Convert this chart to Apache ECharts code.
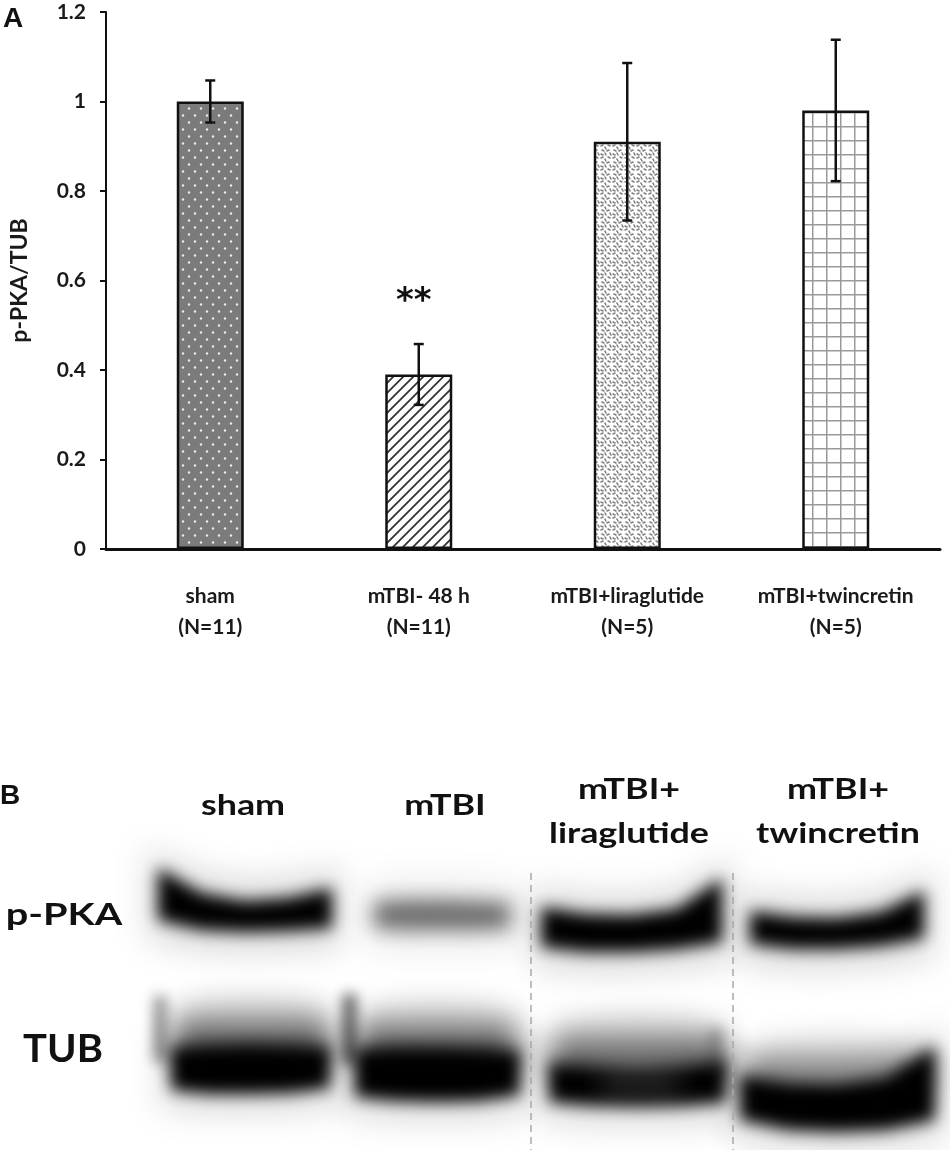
<!DOCTYPE html>
<html>
<head>
<meta charset="utf-8">
<script src="https://cdn.jsdelivr.net/npm/echarts@6/dist/echarts.min.js"></script>
<style>
  html, body { margin: 0; padding: 0; background: #fff; }
  #main { width: 950px; height: 1150px; }
</style>
</head>
<body>
<div id="main"></div>
<script>
// panel A data
var categories = ['sham\n(N=11)', 'mTBI- 48 h\n(N=11)', 'mTBI+liraglutide\n(N=5)', 'mTBI+twincretin\n(N=5)'];
var means = [1.0, 0.39, 0.91, 0.98];
var sem = [0.047, 0.068, 0.176, 0.158];
var signif = ['', '**', '', ''];
var yTicks = [0, 0.2, 0.4, 0.6, 0.8, 1, 1.2];

// panel B labels
var laneTitles = [['sham'], ['mTBI'], ['mTBI+', 'liraglutide'], ['mTBI+', 'twincretin']];
var rowNames = ['p-PKA', 'TUB'];

function tile(w, h, draw) {
    var c = document.createElement('canvas');
    c.width = w; c.height = h;
    draw(c.getContext('2d'));
    return c;
}

var dotTile = tile(12, 14, function (g) {
    g.fillStyle = '#7b7b7b';
    g.fillRect(0, 0, 12, 14);
    g.fillStyle = '#ececec';
    g.beginPath(); g.arc(3, 3.5, 1.2, 0, Math.PI * 2); g.fill();
    g.beginPath(); g.arc(9, 10.5, 1.2, 0, Math.PI * 2); g.fill();
});

var hatchTile = tile(10, 10, function (g) {
    g.fillStyle = '#fff';
    g.fillRect(0, 0, 10, 10);
    g.strokeStyle = '#333';
    g.lineWidth = 1.8;
    g.beginPath();
    g.moveTo(0, 10); g.lineTo(10, 0);
    g.moveTo(-5, 5); g.lineTo(5, -5);
    g.moveTo(5, 15); g.lineTo(15, 5);
    g.stroke();
});

var speckleTile = tile(12, 12, function (g) {
    g.fillStyle = '#fff';
    g.fillRect(0, 0, 12, 12);
    g.strokeStyle = '#808080';
    g.lineWidth = 1.6;
    g.lineCap = 'round';
    var segs = [[1, 2, 3, 1], [5, 3, 6, 5], [8, 1, 10, 2], [2, 6, 4, 7], [7, 7, 9, 6], [10, 9, 11, 11], [1, 10, 3, 11], [5, 9, 6, 11]];
    segs.forEach(function (s) {
        g.beginPath(); g.moveTo(s[0], s[1]); g.lineTo(s[2], s[3]); g.stroke();
    });
});

var gridTile = tile(14, 14, function (g) {
    g.fillStyle = '#fff';
    g.fillRect(0, 0, 14, 14);
    g.strokeStyle = '#9a9a9a';
    g.lineWidth = 1.5;
    g.beginPath();
    g.moveTo(0.75, 0); g.lineTo(0.75, 14);
    g.moveTo(0, 0.75); g.lineTo(14, 0.75);
    g.stroke();
});

var fills = [dotTile, hatchTile, speckleTile, gridTile];

// western blot picture, drawn once on a canvas
// a band: left/right x, top edge and bottom edge sampled at 5 even steps
function band(g, b, color, blur, grow) {
    var n = b.t.length, step = (b.x1 - b.x0) / (n - 1);
    var gx = grow ? grow[0] : 0, gy = grow ? grow[1] : 0;
    g.filter = 'blur(' + blur + 'px)';
    g.fillStyle = color;
    g.beginPath();
    for (var i = 0; i < n; i++) {
        var x = b.x0 + i * step + (i === 0 ? -gx : i === n - 1 ? gx : 0);
        if (i === 0) g.moveTo(x, b.t[i] - gy); else g.lineTo(x, b.t[i] - gy);
    }
    for (var j = n - 1; j >= 0; j--) {
        var x2 = b.x0 + j * step + (j === 0 ? -gx : j === n - 1 ? gx : 0);
        g.lineTo(x2, b.b[j] + gy);
    }
    g.closePath();
    g.fill();
}

function smear(g, x0, x1, y0, y1, a0, a1, blur) {
    g.filter = 'blur(' + blur + 'px)';
    var gr = g.createLinearGradient(0, y0, 0, y1);
    gr.addColorStop(0, 'rgba(0,0,0,' + a0 + ')');
    gr.addColorStop(1, 'rgba(0,0,0,' + a1 + ')');
    g.fillStyle = gr;
    g.beginPath();
    g.moveTo(x0, y1);
    g.lineTo(x0, y0 + 18);
    g.quadraticCurveTo((x0 + x1) / 2, y0 - 14, x1, y0 + 18);
    g.lineTo(x1, y1);
    g.closePath();
    g.fill();
}

var Y0 = 770;
var blot = tile(950, 380, function (g) {
    g.translate(0, -Y0);
    // p-PKA row
    var pka = [
        {x0: 158, x1: 332, t: [868, 893, 901, 898, 888], b: [920, 930, 932, 931, 928], c: '#000'},
        {x0: 374, x1: 510, t: [902, 900, 900, 901, 903], b: [928, 930, 930, 930, 928], c: '#6a6a6a'},
        {x0: 541, x1: 722, t: [907, 914, 915, 909, 878], b: [947, 952, 952, 949, 942], c: '#000'},
        {x0: 750, x1: 924, t: [911, 917, 918, 912, 891], b: [944, 949, 949, 946, 938], c: '#000'}
    ];
    pka.forEach(function (b, i) {
        band(g, b, i === 1 ? 'rgba(0,0,0,0.08)' : 'rgba(0,0,0,0.15)', 16, [10, 20]);
        band(g, b, b.c, i === 1 ? 10 : 8, [0, 0]);
    });
    // TUB row
    smear(g, 174, 330, 992, 1062, 0.03, 0.8, 14);
    smear(g, 358, 517, 997, 1066, 0.03, 0.8, 14);
    smear(g, 551, 726, 1010, 1075, 0.03, 0.75, 14);
    smear(g, 746, 930, 1032, 1090, 0.02, 0.6, 14);
    var tub = [
        {x0: 171, x1: 330, t: [1047, 1045, 1044, 1045, 1047], b: [1090, 1094, 1094, 1093, 1088]},
        {x0: 355, x1: 520, t: [1049, 1047, 1047, 1048, 1051], b: [1097, 1101, 1102, 1101, 1095]},
        {x0: 549, x1: 726, t: [1063, 1065, 1067, 1065, 1061], b: [1102, 1106, 1107, 1106, 1102]},
        {x0: 740, x1: 935, t: [1075, 1082, 1083, 1077, 1046], b: [1120, 1130, 1132, 1130, 1120]}
    ];
    tub.forEach(function (b) {
        band(g, b, 'rgba(0,0,0,0.15)', 16, [10, 18]);
        band(g, b, '#000', 8, [0, 0]);
    });
    // lighter middle in the liraglutide TUB band
    g.filter = 'blur(12px)';
    g.fillStyle = 'rgba(255,255,255,0.14)';
    g.fillRect(600, 1072, 80, 26);
    // edge streaks
    g.filter = 'blur(7px)';
    g.fillStyle = 'rgba(0,0,0,0.45)';
    g.fillRect(154, 996, 12, 66);
    g.fillStyle = 'rgba(0,0,0,0.65)';
    g.fillRect(343, 994, 13, 70);
    g.fillStyle = 'rgba(0,0,0,0.28)';
    g.fillRect(710, 1028, 12, 46);
    g.filter = 'none';
});

var txt = function (x, y, s, size, sx) {
    return {
        type: 'text', x: x, y: y, scaleX: sx || 1,
        style: {
            text: s, x: 0, y: 0, fill: '#111',
            font: 'bold ' + size + 'px Lato, sans-serif',
            textAlign: 'center', textVerticalAlign: 'middle'
        }
    };
};

var laneX = [243, 445, 629, 838];
var graphics = [
    {type: 'text', x: 3, y: 19, style: {text: 'A', x: 0, y: 0, fill: '#111',
        font: 'bold 28px "Liberation Sans", Arial', textVerticalAlign: 'middle'}},
    {type: 'text', x: 0, y: 796, style: {text: 'B', x: 0, y: 0, fill: '#111',
        font: 'bold 28px "Liberation Sans", Arial', textVerticalAlign: 'middle'}},
    {type: 'image', x: 0, y: Y0, z: 1, style: {image: blot, width: 950, height: 380}},
    {type: 'line', z: 2, shape: {x1: 531, y1: 873, x2: 531, y2: 1150},
        style: {stroke: '#a8a8a8', lineWidth: 1.5, lineDash: [7, 5]}},
    {type: 'line', z: 2, shape: {x1: 733, y1: 873, x2: 733, y2: 1150},
        style: {stroke: '#a8a8a8', lineWidth: 1.5, lineDash: [7, 5]}},
    txt(64, 915, rowNames[0], 31, 1.28),
    txt(63, 1050, rowNames[1], 38, 1.05)
];
laneTitles.forEach(function (t, i) {
    if (t.length === 1) {
        graphics.push(txt(laneX[i], 806, t[0], 28, 1.28));
    } else {
        graphics.push(txt(laneX[i], 790, t[0], 28, 1.28));
        graphics.push(txt(laneX[i], 834, t[1], 28, 1.28));
    }
});

var chart = echarts.init(document.getElementById('main'));

var option = {
    animation: false,
    backgroundColor: '#fff',
    grid: {left: 93, right: 10, top: 12, bottom: 601},
    xAxis: {
        type: 'category',
        data: categories,
        axisLine: {lineStyle: {color: '#111', width: 3}},
        axisTick: {show: false},
        axisLabel: {
            interval: 0,
            color: '#1a1a1a', fontFamily: 'Lato', fontWeight: 'bold',
            fontSize: 21, lineHeight: 31, margin: 32
        }
    },
    yAxis: {
        type: 'value',
        min: 0, max: 1.2, interval: 0.2,
        name: 'p-PKA/TUB',
        nameLocation: 'middle',
        nameRotate: 90,
        nameGap: 75,
        nameTextStyle: {color: '#1a1a1a', fontFamily: 'Lato', fontWeight: 'bold', fontSize: 23},
        axisLine: {show: true, lineStyle: {color: '#111', width: 2}},
        axisTick: {show: true, length: 6, lineStyle: {color: '#111', width: 2}},
        splitLine: {show: false},
        axisLabel: {
            color: '#1a1a1a', fontFamily: 'Lato', fontWeight: 'bold', fontSize: 21, margin: 20,
            formatter: function (v) { return String(Number(v.toFixed(1))); }
        }
    },
    series: [
        {
            type: 'bar',
            barWidth: 67,
            data: means.map(function (v, i) {
                return {
                    value: v,
                    itemStyle: {color: {image: fills[i], repeat: 'repeat'}, borderColor: '#111', borderWidth: 2.5}
                };
            })
        },
        {
            type: 'custom',
            z: 5,
            data: means.map(function (v, i) { return [i, v - sem[i], v + sem[i]]; }),
            renderItem: function (params, api) {
                var x = api.value(0);
                var top = api.coord([x, api.value(2)]);
                var bot = api.coord([x, api.value(1)]);
                var w = 5;
                var st = {stroke: '#111', lineWidth: 2.5};
                var kids = [
                    {type: 'line', shape: {x1: top[0], y1: top[1], x2: bot[0], y2: bot[1]}, style: st},
                    {type: 'line', shape: {x1: top[0] - w, y1: top[1], x2: top[0] + w, y2: top[1]}, style: st},
                    {type: 'line', shape: {x1: bot[0] - w, y1: bot[1], x2: bot[0] + w, y2: bot[1]}, style: st}
                ];
                var s = signif[params.dataIndex];
                if (s) {
                    kids.push({type: 'text', x: top[0] - 5, y: top[1] - 42, style: {
                        text: s, fill: '#111', font: 'bold 34px "DejaVu Sans"',
                        textAlign: 'center', textVerticalAlign: 'middle'
                    }});
                }
                return {type: 'group', children: kids};
            }
        }
    ],
    graphic: graphics
};

chart.setOption(option);
</script>
</body>
</html>
